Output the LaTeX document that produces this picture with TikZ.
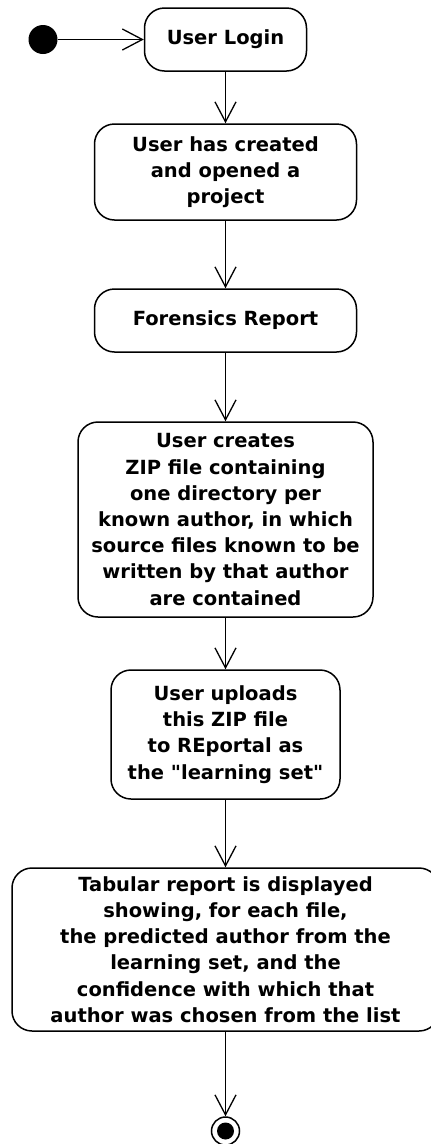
\documentclass[tikz,border=0pt]{standalone}
\usepackage{fontspec}
\setmainfont{DejaVu Sans}
% same face without TeX ligature mapping, for straight double quotes
\newfontfamily\straightq{DejaVu Sans}
\newcommand\sq{{\straightq\bfseries"}}
\usetikzlibrary{arrows.meta}
\begin{document}
\begin{tikzpicture}[x=1pt,y=-1pt,
  act/.style={draw, line width=1.5pt, rounded corners=20pt, align=center,
    font=\bfseries\fontsize{19.5}{26.2}\selectfont, inner sep=0pt},
  flow/.style={line width=1.3pt,
    -{Straight Barb[length=20pt,width=21pt,line width=1.3pt]}}]
\useasboundingbox (0,0) rectangle (431,1144);
\clip (0,0) rectangle (431,1144);

% activities
\node[act, minimum width=162pt, minimum height=63pt] (login) at (225.5,39.5) {User Login};
\node[act, minimum width=262pt, minimum height=96pt] (project) at (225.5,172)
  {User has created\\and opened a\\project};
\node[act, minimum width=262pt, minimum height=63pt] (forensics) at (225.5,320.5)
  {Forensics Report};
\node[act, minimum width=295pt, minimum height=195pt] (zip) at (225.5,519.5)
  {User creates\\ZIP file containing\\one directory per\\known author, in which\\source files known to be\\written by that author\\are contained};
\node[act, minimum width=229pt, minimum height=129pt] (upload) at (225.5,734.5)
  {User uploads\\this ZIP file\\to REportal as\\the \sq learning set\sq};
\node[act, minimum width=427pt, minimum height=163pt] (tabular) at (225.5,949.5)
  {Tabular report is displayed\\showing, for each file,\\the predicted author from the\\learning set, and the\\confidence with which that\\author was chosen from the list};

% initial and final nodes
\node[circle, fill, minimum size=29pt, inner sep=0pt] (start) at (43,39.5) {};
\node[circle, draw, line width=1.5pt, minimum size=28pt, inner sep=0pt] (stop) at (225.5,1131) {};
\node[circle, fill, minimum size=17pt, inner sep=0pt] (stopdot) at (stop.center) {};

% control flow
\draw[flow] (start) -- (login);
\draw[flow] (login) -- (project);
\draw[flow] (project) -- (forensics);
\draw[flow] (forensics) -- (zip);
\draw[flow] (zip) -- (upload);
\draw[flow] (upload) -- (tabular);
\draw[flow] (tabular) -- (stop);
\end{tikzpicture}
\end{document}
